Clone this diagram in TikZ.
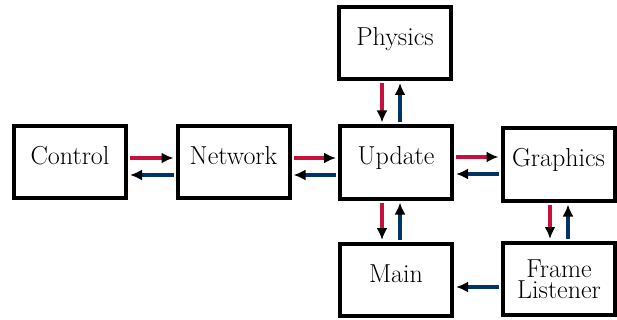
\documentclass[tikz,border=0pt]{standalone}
\usetikzlibrary{arrows.meta}
\definecolor{flowred}{RGB}{200,16,60}
\definecolor{flowblue}{RGB}{0,51,102}
\begin{document}
\begin{tikzpicture}[x=1pt,y=-1pt,
  modbox/.style={draw=black,line width=4pt,minimum width=112pt,minimum height=72pt,
    inner sep=0pt,align=center,font=\fontsize{26}{20.5}\selectfont},
  oneline/.style={text height=0.72em,text depth=0.26em},
  tipblack/.style={-{Latex[length=12pt,width=11pt,color=black]},line width=4pt,
    shorten <=2pt,shorten >=2pt},
  fwd/.style={tipblack,draw=flowred},
  back/.style={tipblack,draw=flowblue}]
\useasboundingbox (0,0) rectangle (617,320);

% modules
\node[modbox,oneline] (control) at (70,162) {Control};
\node[modbox,oneline] (network) at (233.5,162) {Network};
\node[modbox,oneline] (update) at (396,162.5) {Update};
\node[modbox,oneline] (physics) at (395,43) {Physics};
\node[modbox,oneline] (graphics) at (558.5,164.5) {Graphics};
\node[modbox,oneline] (main) at (396,280) {Main};
\node[modbox] (frame) at (559,279) {Frame\\Listener};

% Control <-> Network
\draw[fwd] (control.east |- 0,158) -- (network.west |- 0,158);
\draw[back] (network.west |- 0,175) -- (control.east |- 0,175);
% Network <-> Update
\draw[fwd] (network.east |- 0,158) -- (update.west |- 0,158);
\draw[back] (update.west |- 0,175) -- (network.east |- 0,175);
% Update <-> Graphics
\draw[fwd] (update.east |- 0,157) -- (graphics.west |- 0,157);
\draw[back] (graphics.west |- 0,174) -- (update.east |- 0,174);
% Physics <-> Update
\draw[fwd] (physics.south -| 382,0) -- (update.north -| 382,0);
\draw[back] (update.north -| 400,0) -- (physics.south -| 400,0);
% Update <-> Main
\draw[fwd] (update.south -| 382,0) -- (main.north -| 382,0);
\draw[back] (main.north -| 400,0) -- (update.south -| 400,0);
% Graphics <-> Frame Listener
\draw[fwd] (graphics.south -| 550,0) -- (frame.north -| 550,0);
\draw[back] (frame.north -| 568,0) -- (graphics.south -| 568,0);
% Frame Listener -> Main
\draw[back] (frame.west |- 0,287) -- (main.east |- 0,287);
\end{tikzpicture}
\end{document}
